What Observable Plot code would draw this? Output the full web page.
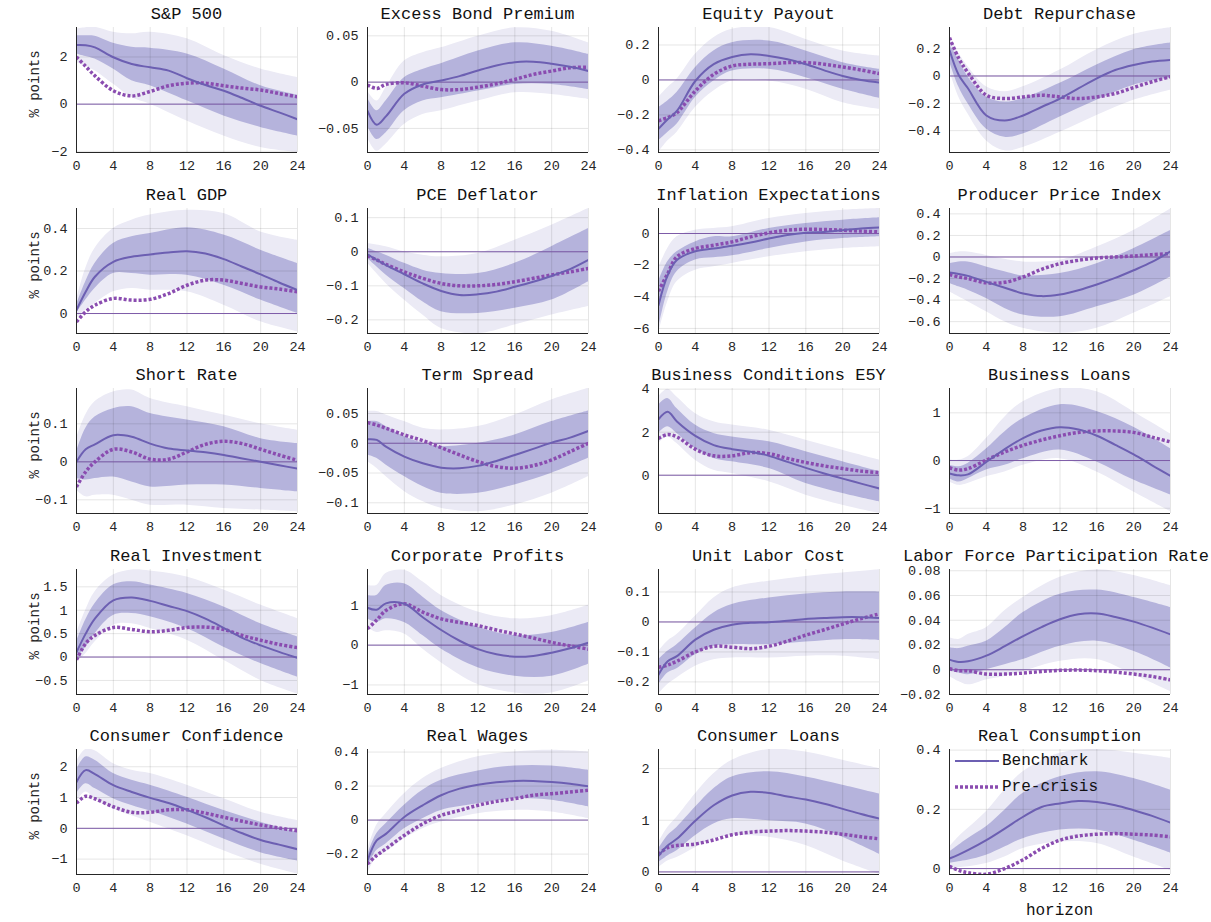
<!DOCTYPE html>
<html><head><meta charset="utf-8">
<script src="https://cdn.jsdelivr.net/npm/d3@7"></script>
<script src="https://cdn.jsdelivr.net/npm/@observablehq/plot@0.6"></script>
<style>
html,body{margin:0;padding:0;background:#fff;overflow:hidden;}
#root{position:relative;width:1211px;height:922px;overflow:hidden;font-family:"Liberation Mono","DejaVu Sans Mono",monospace;color:#111;}
.panel{position:absolute;}
.title{position:absolute;font-size:17px;white-space:nowrap;transform:translate(-50%,-50%);}
.ylab{position:absolute;font-size:14px;white-space:nowrap;transform:translate(-50%,-50%) rotate(-90deg);color:#262626;}
.txt{position:absolute;white-space:nowrap;transform:translate(0,-50%);font-size:16px;}
</style></head><body><div id="root"></div>
<script>
// horizons
const lineH = [0,1,2,4,6,8,10,12,14,16,18,20,22,24];
const bandH = [0,1,2,4,6,8,12,16,20,24];
const xTicks = [0,4,8,12,16,20,24];

const titles = ["S&P 500","Excess Bond Premium","Equity Payout","Debt Repurchase",
  "Real GDP","PCE Deflator","Inflation Expectations","Producer Price Index",
  "Short Rate","Term Spread","Business Conditions E5Y","Business Loans",
  "Real Investment","Corporate Profits","Unit Labor Cost","Labor Force Participation Rate",
  "Consumer Confidence","Real Wages","Consumer Loans","Real Consumption"];

const yDomains = [[-2.05,3.25],[-0.076,0.059],[-0.415,0.3],[-0.56,0.355],
  [-0.094,0.494],[-0.24,0.127],[-6.32,1.58],[-0.71,0.45],
  [-0.136,0.193],[-0.118,0.092],[-1.78,4.03],[-1.11,1.51],
  [-0.8,1.87],[-1.24,1.9],[-0.242,0.175],[-0.02,0.081],
  [-1.5,2.56],[-0.32,0.415],[-0.05,2.37],[-0.02,0.402]];

const yTicks = [[-2,0,2],[-0.05,0,0.05],[-0.4,-0.2,0,0.2],[-0.4,-0.2,0,0.2],
  [0,0.2,0.4],[-0.2,-0.1,0,0.1],[-6,-4,-2,0],[-0.6,-0.4,-0.2,0,0.2,0.4],
  [-0.1,0,0.1],[-0.1,-0.05,0,0.05],[0,2,4],[-1,0,1],
  [-0.5,0,0.5,1,1.5],[-1,0,1],[-0.2,-0.1,0,0.1],[-0.02,0,0.02,0.04,0.06,0.08],
  [-1,0,1,2],[-0.2,0,0.2,0.4],[0,1,2],[0,0.2,0.4]];

// S&P 500
const sp_bench=[2.51,2.5,2.41,1.99,1.70,1.56,1.42,1.1,0.81,0.57,0.26,-0.07,-0.35,-0.64];
const sp_pre=[2.0,1.6,1.2,0.57,0.35,0.54,0.78,0.89,0.89,0.78,0.68,0.6,0.45,0.31];
const sp_inHi=[2.9,2.9,2.88,2.58,2.41,2.37,2.13,1.49,0.78,0.38];
const sp_inLo=[2.13,2.02,1.91,1.49,0.99,0.78,0.14,-0.5,-0.99,-1.35];
const sp_outHi=[3.19,3.24,3.26,3.05,2.98,3.05,2.77,2.06,1.49,1.13];
const sp_outLo=[1.77,1.6,1.42,0.85,0.28,0,-0.71,-1.35,-1.84,-2.05];
// Excess Bond Premium
const ebp_bench=[-0.031,-0.046,-0.037,-0.0126,-0.0025,0.0018,0.0065,0.0126,0.018,0.0216,0.022,0.0198,0.0165,0.012];
const ebp_pre=[-0.003,-0.0068,-0.0025,-0.0007,-0.0043,-0.008,-0.008,-0.0054,-0.0018,0.003,0.0083,0.012,0.0155,0.0162];
const ebp_inHi=[-0.017,-0.031,-0.0205,0.0047,0.0137,0.0198,0.0335,0.0424,0.0388,0.03];
const ebp_inLo=[-0.0475,-0.062,-0.055,-0.031,-0.0205,-0.017,-0.0097,-0.0025,-0.0025,-0.008];
const ebp_outHi=[-0.0097,-0.0205,-0.006,0.0227,0.0317,0.037,0.0496,0.0586,0.055,0.0424];
const ebp_outLo=[-0.06,-0.0745,-0.067,-0.0457,-0.035,-0.031,-0.0205,-0.0115,-0.0133,-0.0187];
// Equity Payout
const eqp_bench=[-0.28,-0.225,-0.177,-0.006,0.09,0.131,0.147,0.137,0.118,0.09,0.055,0.023,0,-0.015];
const eqp_pre=[-0.234,-0.215,-0.187,-0.063,0.032,0.08,0.09,0.093,0.099,0.099,0.09,0.074,0.057,0.036];
const eqp_inHi=[-0.158,-0.12,-0.072,0.07,0.166,0.213,0.223,0.166,0.099,0.061];
const eqp_inLo=[-0.349,-0.3,-0.253,-0.1,-0.006,0.051,0.061,0.013,-0.053,-0.105];
const eqp_outHi=[-0.1,-0.044,0.004,0.147,0.242,0.29,0.3,0.232,0.166,0.137];
const eqp_outLo=[-0.415,-0.349,-0.3,-0.158,-0.063,-0.006,-0.006,-0.053,-0.13,-0.168];
// Debt Repurchase
const debt_bench=[0.19,0.007,-0.09,-0.289,-0.326,-0.289,-0.227,-0.165,-0.091,-0.017,0.044,0.081,0.106,0.118];
const debt_pre=[0.28,0.13,0.025,-0.14,-0.165,-0.153,-0.141,-0.153,-0.165,-0.153,-0.128,-0.084,-0.042,-0.005];
const debt_inHi=[0.23,0.119,-0.005,-0.153,-0.19,-0.165,-0.054,0.081,0.193,0.242];
const debt_inLo=[0.106,-0.079,-0.202,-0.388,-0.449,-0.425,-0.301,-0.178,-0.067,-0.017];
const debt_outHi=[0.291,0.168,0.069,-0.079,-0.116,-0.079,0.044,0.193,0.304,0.353];
const debt_outLo=[0.044,-0.153,-0.277,-0.474,-0.548,-0.523,-0.412,-0.289,-0.178,-0.104];
// Real GDP
const gdp_bench=[0.016,0.102,0.173,0.243,0.267,0.278,0.287,0.293,0.282,0.256,0.22,0.184,0.146,0.11];
const gdp_pre=[-0.039,0.008,0.039,0.071,0.063,0.067,0.094,0.133,0.157,0.157,0.141,0.125,0.115,0.102];
const gdp_inHi=[0.039,0.149,0.235,0.329,0.361,0.376,0.403,0.369,0.298,0.235];
const gdp_inLo=[0,0.063,0.118,0.188,0.188,0.18,0.18,0.133,0.063,0];
const gdp_outHi=[0.063,0.212,0.306,0.4,0.439,0.463,0.486,0.47,0.384,0.345];
const gdp_outLo=[-0.024,0.016,0.047,0.102,0.118,0.11,0.102,0.039,-0.039,-0.086];
// PCE Deflator
const pce_bench=[-0.008,-0.024,-0.039,-0.066,-0.093,-0.115,-0.127,-0.125,-0.117,-0.103,-0.088,-0.071,-0.051,-0.024];
const pce_pre=[-0.012,-0.024,-0.037,-0.059,-0.078,-0.093,-0.1,-0.1,-0.096,-0.088,-0.078,-0.068,-0.059,-0.049];
const pce_inHi=[0.01,0,-0.01,-0.034,-0.054,-0.064,-0.064,-0.034,0.015,0.068];
const pce_inLo=[-0.02,-0.044,-0.068,-0.108,-0.147,-0.176,-0.181,-0.166,-0.142,-0.088];
const pce_outHi=[0.024,0.02,0.015,0,-0.01,-0.015,-0.005,0.034,0.078,0.127];
const pce_outLo=[-0.034,-0.064,-0.093,-0.142,-0.186,-0.225,-0.24,-0.215,-0.186,-0.161];
// Inflation Expectations
const infx_bench=[-4.53,-2.63,-1.68,-1.12,-0.95,-0.78,-0.57,-0.32,-0.1,0.04,0.1,0.21,0.32,0.38];
const infx_pre=[-3.64,-2.53,-1.47,-0.95,-0.74,-0.53,-0.21,0.04,0.21,0.27,0.25,0.21,0.15,0.1];
const infx_inHi=[-3.05,-1.79,-1.16,-0.53,-0.21,-0.21,0.32,0.63,0.84,0.99];
const infx_inLo=[-6.0,-3.68,-2.42,-1.68,-1.54,-1.41,-0.95,-0.53,-0.32,-0.21];
const infx_outHi=[-2.21,-0.95,-0.21,0.21,0.32,0.42,0.95,1.26,1.47,1.58];
const infx_outLo=[-6.32,-4.32,-3.05,-2.32,-2.1,-1.89,-1.47,-1.16,-0.95,-0.84];
// Producer Price Index
const ppi_bench=[-0.145,-0.157,-0.175,-0.231,-0.286,-0.338,-0.363,-0.348,-0.308,-0.255,-0.194,-0.123,-0.046,0.052];
const ppi_pre=[-0.163,-0.185,-0.2,-0.24,-0.235,-0.185,-0.114,-0.062,-0.031,-0.009,0,0.009,0.022,0.031];
const ppi_inHi=[-0.062,-0.046,-0.046,-0.092,-0.138,-0.175,-0.154,-0.062,0.077,0.246];
const ppi_inLo=[-0.246,-0.277,-0.308,-0.385,-0.477,-0.538,-0.554,-0.462,-0.354,-0.185];
const ppi_outHi=[0.031,0.046,0.046,0.015,-0.022,-0.046,-0.031,0.092,0.246,0.446];
const ppi_outLo=[-0.323,-0.369,-0.415,-0.508,-0.6,-0.662,-0.708,-0.662,-0.523,-0.369];
// Short Rate
const srate_bench=[0,0.033,0.046,0.07,0.066,0.048,0.035,0.03,0.025,0.018,0.009,0,-0.009,-0.018];
const srate_pre=[-0.066,-0.026,0,0.033,0.026,0.007,0.007,0.026,0.046,0.054,0.048,0.033,0.018,0.004];
const srate_inHi=[0.026,0.088,0.118,0.14,0.145,0.127,0.11,0.092,0.061,0.048];
const srate_inLo=[-0.044,-0.048,-0.044,-0.04,-0.053,-0.066,-0.061,-0.061,-0.07,-0.079];
const srate_outHi=[0.061,0.123,0.158,0.184,0.189,0.167,0.145,0.123,0.1,0.083];
const srate_outLo=[-0.075,-0.092,-0.088,-0.088,-0.101,-0.114,-0.114,-0.123,-0.127,-0.132];
// Term Spread
const tsp_bench=[0.0067,0.0056,-0.0056,-0.0224,-0.0336,-0.041,-0.042,-0.038,-0.0297,-0.0196,-0.0095,0.0011,0.0095,0.0207];
const tsp_pre=[0.0347,0.0308,0.0252,0.014,0.0045,-0.0073,-0.0196,-0.0308,-0.0392,-0.042,-0.0375,-0.028,-0.014,0];
const tsp_inHi=[0.0364,0.0364,0.028,0.0112,0,-0.0056,0,0.014,0.0364,0.0543];
const tsp_inLo=[-0.0196,-0.0252,-0.0364,-0.056,-0.0728,-0.084,-0.084,-0.07,-0.0504,-0.0252];
const tsp_outHi=[0.0532,0.0532,0.0476,0.0364,0.0252,0.0224,0.028,0.0476,0.0728,0.0924];
const tsp_outLo=[-0.0308,-0.042,-0.056,-0.081,-0.098,-0.109,-0.115,-0.1036,-0.084,-0.056];
// Business Conditions E5Y
const bcond_bench=[2.6,2.95,2.5,1.83,1.4,1.21,1.09,0.9,0.62,0.34,0.08,-0.16,-0.39,-0.62];
const bcond_pre=[1.71,1.89,1.78,1.21,0.9,0.9,1.05,1.0,0.78,0.59,0.43,0.31,0.19,0.12];
const bcond_inHi=[3.26,3.57,3.1,2.33,1.94,1.78,1.55,1.09,0.62,0.16];
const bcond_inLo=[1.94,2.25,1.94,1.24,0.78,0.62,0.31,-0.39,-0.85,-1.24];
const bcond_outHi=[3.64,4.0,3.64,2.87,2.48,2.33,2.09,1.63,1.16,0.7];
const bcond_outLo=[1.47,1.78,1.47,0.7,0.23,0.08,-0.31,-0.93,-1.4,-1.78];
// Business Loans
const bloan_bench=[-0.27,-0.31,-0.29,-0.03,0.24,0.47,0.63,0.7,0.65,0.52,0.33,0.13,-0.1,-0.32];
const bloan_pre=[-0.15,-0.2,-0.17,0.01,0.18,0.32,0.43,0.52,0.59,0.62,0.62,0.59,0.49,0.39];
const bloan_inHi=[-0.1,-0.13,-0.06,0.24,0.6,0.88,1.17,1.03,0.7,0.25];
const bloan_inLo=[-0.38,-0.45,-0.38,-0.2,-0.1,0.04,0.22,-0.03,-0.41,-0.72];
const bloan_outHi=[0.01,0.01,0.08,0.46,0.91,1.23,1.51,1.44,1.02,0.56];
const bloan_outLo=[-0.45,-0.52,-0.48,-0.34,-0.24,-0.1,0.04,-0.24,-0.66,-1.07];
// Real Investment
const inv_bench=[0.1,0.5,0.82,1.21,1.27,1.2,1.09,0.98,0.82,0.62,0.41,0.25,0.11,-0.02];
const inv_pre=[-0.06,0.29,0.46,0.63,0.59,0.54,0.57,0.63,0.64,0.59,0.46,0.36,0.27,0.2];
const inv_inHi=[0.32,0.79,1.14,1.54,1.61,1.54,1.36,1.07,0.71,0.43];
const inv_inLo=[-0.04,0.21,0.5,0.89,0.93,0.86,0.61,0.21,-0.14,-0.43];
const inv_outHi=[0.5,1.0,1.39,1.75,1.86,1.84,1.71,1.43,1.11,0.82];
const inv_outLo=[-0.11,0.07,0.32,0.68,0.71,0.61,0.36,-0.07,-0.5,-0.79];
// Corporate Profits
const prof_bench=[0.94,0.89,1.05,1.04,0.7,0.38,0.11,-0.1,-0.23,-0.29,-0.27,-0.19,-0.08,0.06];
const prof_pre=[0.41,0.63,0.87,1.04,0.83,0.66,0.57,0.49,0.38,0.28,0.18,0.07,-0.02,-0.1];
const prof_inHi=[1.25,1.25,1.5,1.54,1.21,0.87,0.45,0.24,0.32,0.57];
const prof_inLo=[0.66,0.57,0.66,0.57,0.24,-0.1,-0.57,-0.78,-0.78,-0.48];
const prof_outHi=[1.5,1.5,1.8,1.88,1.59,1.25,0.83,0.66,0.74,1.0];
const prof_outLo=[0.45,0.32,0.36,0.28,-0.1,-0.44,-0.99,-1.2,-1.2,-0.9];
// Unit Labor Cost
const ulc_bench=[-0.176,-0.131,-0.114,-0.059,-0.026,-0.009,-0.003,-0.001,0.004,0.01,0.013,0.016,0.016,0.013];
const ulc_pre=[-0.151,-0.144,-0.131,-0.1,-0.081,-0.084,-0.089,-0.081,-0.064,-0.044,-0.026,-0.007,0.011,0.027];
const ulc_inHi=[-0.126,-0.098,-0.076,-0.02,0.03,0.058,0.08,0.093,0.1,0.1];
const ulc_inLo=[-0.209,-0.17,-0.156,-0.109,-0.081,-0.076,-0.076,-0.067,-0.059,-0.062];
const ulc_outHi=[-0.098,-0.064,-0.042,0.019,0.08,0.113,0.136,0.152,0.163,0.174];
const ulc_outLo=[-0.242,-0.209,-0.187,-0.148,-0.126,-0.12,-0.12,-0.114,-0.114,-0.126];
// Labor Force Participation Rate
const lfpr_bench=[0.0082,0.0063,0.0068,0.0114,0.019,0.0272,0.0345,0.0408,0.0448,0.0454,0.0427,0.0389,0.034,0.0285];
const lfpr_pre=[0.0008,-0.0008,-0.0008,-0.0035,-0.0035,-0.0027,-0.0014,-0.0005,-0.0003,-0.0008,-0.0019,-0.0035,-0.0054,-0.0082];
const lfpr_inHi=[0.0177,0.0171,0.019,0.0231,0.034,0.0462,0.0611,0.0644,0.0584,0.0503];
const lfpr_inLo=[-0.0008,-0.0027,-0.0041,0,0.0041,0.0082,0.019,0.0231,0.0149,0.0014];
const lfpr_outHi=[0.0258,0.0245,0.0285,0.034,0.0476,0.0584,0.0747,0.0807,0.0761,0.0679];
const lfpr_outLo=[-0.0054,-0.0095,-0.0122,-0.0082,-0.0054,-0.0014,0.0068,0.0082,-0.0041,-0.0177];
// Consumer Confidence
const ccon_bench=[1.5,1.89,1.76,1.4,1.18,0.99,0.82,0.6,0.36,0.09,-0.16,-0.38,-0.53,-0.68];
const ccon_pre=[0.82,1.04,0.96,0.7,0.52,0.52,0.6,0.6,0.49,0.36,0.23,0.11,0.01,-0.08];
const ccon_inHi=[1.89,2.32,2.21,1.78,1.56,1.4,1.01,0.58,0.2,-0.13];
const ccon_inLo=[1.12,1.45,1.29,0.96,0.74,0.56,0.14,-0.35,-0.79,-1.06];
const ccon_outHi=[2.16,2.56,2.52,2.1,1.89,1.78,1.4,0.96,0.52,0.25];
const ccon_outLo=[0.85,1.18,0.96,0.63,0.41,0.2,-0.24,-0.73,-1.17,-1.49];
// Real Wages
const wage_bench=[-0.238,-0.12,-0.081,0.018,0.087,0.146,0.185,0.208,0.222,0.23,0.23,0.224,0.214,0.199];
const wage_pre=[-0.258,-0.208,-0.169,-0.09,-0.022,0.028,0.057,0.087,0.11,0.126,0.146,0.155,0.165,0.175];
const wage_inHi=[-0.208,-0.081,-0.022,0.087,0.175,0.234,0.289,0.318,0.318,0.293];
const wage_inLo=[-0.277,-0.179,-0.14,-0.051,0.008,0.057,0.096,0.126,0.116,0.077];
const wage_outHi=[-0.179,-0.031,0.037,0.155,0.244,0.303,0.372,0.401,0.411,0.401];
const wage_outLo=[-0.317,-0.218,-0.189,-0.11,-0.051,-0.012,0.037,0.057,0.047,0.008];
// Consumer Loans
const cloan_bench=[0.31,0.51,0.64,0.99,1.29,1.48,1.55,1.53,1.46,1.4,1.32,1.22,1.12,1.03];
const cloan_pre=[0.34,0.47,0.51,0.54,0.62,0.72,0.77,0.79,0.8,0.79,0.77,0.73,0.68,0.64];
const cloan_inHi=[0.44,0.7,0.86,1.25,1.61,1.84,1.94,1.84,1.68,1.51];
const cloan_inLo=[0.18,0.31,0.41,0.7,0.93,1.03,0.99,0.93,0.67,0.34];
const cloan_outHi=[0.57,0.86,1.06,1.51,1.9,2.16,2.37,2.32,2.16,2.0];
const cloan_outLo=[0.08,0.21,0.28,0.47,0.64,0.7,0.67,0.51,0.21,-0.05];
// Real Consumption
const cons_bench=[0.034,0.047,0.062,0.096,0.135,0.175,0.208,0.22,0.228,0.225,0.214,0.197,0.178,0.155];
const cons_pre=[0.008,-0.006,-0.014,-0.019,0,0.03,0.068,0.096,0.11,0.116,0.118,0.116,0.113,0.107];
const cons_inHi=[0.056,0.079,0.101,0.141,0.197,0.254,0.31,0.327,0.304,0.265];
const cons_inLo=[0.017,0.023,0.028,0.045,0.073,0.101,0.13,0.13,0.096,0.053];
const cons_outHi=[0.073,0.107,0.135,0.192,0.265,0.327,0.389,0.402,0.389,0.372];
const cons_outLo=[0,0.003,0.006,0.017,0.039,0.068,0.09,0.085,0.039,-0.006];

const series = [
  [sp_bench,sp_pre,sp_inLo,sp_inHi,sp_outLo,sp_outHi],
  [ebp_bench,ebp_pre,ebp_inLo,ebp_inHi,ebp_outLo,ebp_outHi],
  [eqp_bench,eqp_pre,eqp_inLo,eqp_inHi,eqp_outLo,eqp_outHi],
  [debt_bench,debt_pre,debt_inLo,debt_inHi,debt_outLo,debt_outHi],
  [gdp_bench,gdp_pre,gdp_inLo,gdp_inHi,gdp_outLo,gdp_outHi],
  [pce_bench,pce_pre,pce_inLo,pce_inHi,pce_outLo,pce_outHi],
  [infx_bench,infx_pre,infx_inLo,infx_inHi,infx_outLo,infx_outHi],
  [ppi_bench,ppi_pre,ppi_inLo,ppi_inHi,ppi_outLo,ppi_outHi],
  [srate_bench,srate_pre,srate_inLo,srate_inHi,srate_outLo,srate_outHi],
  [tsp_bench,tsp_pre,tsp_inLo,tsp_inHi,tsp_outLo,tsp_outHi],
  [bcond_bench,bcond_pre,bcond_inLo,bcond_inHi,bcond_outLo,bcond_outHi],
  [bloan_bench,bloan_pre,bloan_inLo,bloan_inHi,bloan_outLo,bloan_outHi],
  [inv_bench,inv_pre,inv_inLo,inv_inHi,inv_outLo,inv_outHi],
  [prof_bench,prof_pre,prof_inLo,prof_inHi,prof_outLo,prof_outHi],
  [ulc_bench,ulc_pre,ulc_inLo,ulc_inHi,ulc_outLo,ulc_outHi],
  [lfpr_bench,lfpr_pre,lfpr_inLo,lfpr_inHi,lfpr_outLo,lfpr_outHi],
  [ccon_bench,ccon_pre,ccon_inLo,ccon_inHi,ccon_outLo,ccon_outHi],
  [wage_bench,wage_pre,wage_inLo,wage_inHi,wage_outLo,wage_outHi],
  [cloan_bench,cloan_pre,cloan_inLo,cloan_inHi,cloan_outLo,cloan_outHi],
  [cons_bench,cons_pre,cons_inLo,cons_inHi,cons_outLo,cons_outHi]
];

// layout
const colLeft = [76,367,658,949];
const rowTop = [27,208,388,569,749];
const FW = 221, FH = 125, ML = 62, MR = 16, MT = 4, MB = 30;

const C_OUT = "#ebeaf5", C_IN = "#b5b3dc", C_BENCH = "#6c5fb2", C_PRE = "#8a4cb0", C_ZERO = "#7d5ba8";
const fmt = d => d === 0 ? "0" : String(d).replace("-", "\u2212");

const root = document.getElementById("root");

series.forEach((s, i) => {
  const col = i % 4, row = Math.floor(i / 4);
  const [bench, pre, inLo, inHi, outLo, outHi] = s;
  const lineRows = lineH.map((h, k) => ({h, bench: bench[k], pre: pre[k]}));
  const bandRows = bandH.map((h, k) => ({h, inLo: inLo[k], inHi: inHi[k], outLo: outLo[k], outHi: outHi[k]}));
  const dom = yDomains[i];
  const chart = Plot.plot({
    width: FW + ML + MR, height: FH + MT + MB,
    marginLeft: ML, marginRight: MR, marginTop: MT, marginBottom: MB,
    x: {domain: [0, 24], label: null},
    y: {domain: dom, label: null},
    style: {fontFamily: '"Liberation Mono","DejaVu Sans Mono",monospace', fontSize: "13.5px", color: "#262626", background: "transparent", overflow: "visible"},
    marks: [
      Plot.areaY(bandRows, {x: "h", y1: "outLo", y2: "outHi", fill: C_OUT, curve: "catmull-rom", clip: true}),
      Plot.areaY(bandRows, {x: "h", y1: "inLo", y2: "inHi", fill: C_IN, curve: "catmull-rom", clip: true}),
      Plot.gridX(xTicks, {stroke: "#000", strokeOpacity: 0.1}),
      Plot.gridY(yTicks[i], {stroke: "#000", strokeOpacity: 0.1}),
      Plot.ruleY([0], {stroke: C_ZERO, strokeWidth: 1}),
      Plot.lineY(lineRows, {x: "h", y: "pre", stroke: C_PRE, strokeWidth: 3.5, strokeDasharray: "3,2", strokeLinecap: "butt", curve: "catmull-rom", clip: true}),
      Plot.lineY(lineRows, {x: "h", y: "bench", stroke: C_BENCH, strokeWidth: 2, curve: "catmull-rom", clip: true}),
      Plot.axisX(xTicks, {tickSize: 0, tickPadding: 8, tickFormat: d => String(d), label: null}),
      Plot.axisY(yTicks[i], {tickSize: 0, tickPadding: 9, tickFormat: fmt, label: null}),
      Plot.ruleX([0], {stroke: "#262626", strokeWidth: 1}),
      Plot.ruleY([dom[0]], {stroke: "#262626", strokeWidth: 1})
    ]
  });
  const wrap = document.createElement("div");
  wrap.className = "panel";
  wrap.style.left = (colLeft[col] - ML) + "px";
  wrap.style.top = (rowTop[row] - MT) + "px";
  wrap.appendChild(chart);
  root.appendChild(wrap);

  const t = document.createElement("div");
  t.className = "title";
  t.textContent = titles[i];
  const tw = titles[i].length * 0.6 * 17;
  const cx = Math.min(colLeft[col] + FW / 2, 1209 - tw / 2);
  t.style.left = cx + "px";
  t.style.top = (rowTop[row] - 13) + "px";
  root.appendChild(t);

  if (col === 0) {
    const yl = document.createElement("div");
    yl.className = "ylab";
    yl.textContent = "% points";
    yl.style.left = "35px";
    yl.style.top = (rowTop[row] + 57) + "px";
    root.appendChild(yl);
  }
});

// x label
const xl = document.createElement("div");
xl.className = "title";
xl.textContent = "horizon";
xl.style.left = (colLeft[3] + FW / 2) + "px";
xl.style.top = "911px";
xl.style.fontSize = "16px";
root.appendChild(xl);

// legend (in Real Consumption panel)
const legendItems = [
  {label: "Benchmark", color: C_BENCH, width: 2, dash: null, y: 760.5},
  {label: "Pre-crisis", color: C_PRE, width: 3.5, dash: "3,2", y: 786.5}
];
legendItems.forEach(it => {
  const svg = d3.create("svg").attr("width", 46).attr("height", 10)
    .style("position", "absolute").style("left", "954px").style("top", (it.y - 5) + "px");
  svg.append("line").attr("x1", 1).attr("x2", 45).attr("y1", 5).attr("y2", 5)
    .attr("stroke", it.color).attr("stroke-width", it.width)
    .attr("stroke-dasharray", it.dash);
  root.appendChild(svg.node());
  const tx = document.createElement("div");
  tx.className = "txt";
  tx.textContent = it.label;
  tx.style.left = "1002px";
  tx.style.top = it.y + "px";
  root.appendChild(tx);
});
</script></body></html>
